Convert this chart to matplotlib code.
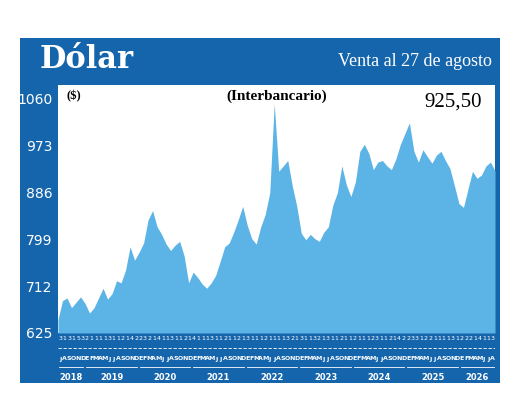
import numpy as np
import matplotlib.pyplot as plt

# Monthly values, Jul 2018 .. Aug 2026
values = [650, 685, 690, 672, 682, 692,
          680, 662, 672, 690, 708, 688, 698, 722, 718, 742, 785, 760,
          775, 792, 835, 852, 822, 808, 790, 778, 788, 795, 768, 718,
          738, 728, 716, 708, 718, 732, 758, 785, 792, 812, 835, 860,
          825, 800, 790, 822, 845, 885, 1050, 925, 935, 945, 898, 860,
          810, 798, 808, 800, 795, 812, 822, 862, 885, 935, 900, 878,
          905, 962, 975, 958, 928, 942, 945, 935, 928, 948, 975, 995,
          1015, 962, 942, 965, 952, 940, 955, 962, 945, 930, 898, 865,
          858, 892, 925, 912, 918, 935, 942, 925.5]
years = ['2018', '2019', '2020', '2021', '2022', '2023', '2024', '2025', '2026']
month_letters = list('JASOND') + list('EFMAMJJASOND') * 7 + list('EFMAMJJA')
day_digits = list('3131532111131121422321411311214111311211213111211113213113213112112111231121422331221111312221411')
yticks = [625, 712, 799, 886, 973, 1060]

blue = '#1565ac'
light = '#5bb4e5'
W, H = 520, 416
fig = plt.figure(figsize=(5.2, 4.16), dpi=100)

def fx(px): return px / W
def fy(py): return 1 - py / H

# blue frame (background axes)
bg = fig.add_axes([fx(20), fy(383), fx(480), (383 - 38) / H], zorder=-1)
bg.set_facecolor(blue)
bg.set_xticks([])
bg.set_yticks([])
for s in bg.spines.values():
    s.set_visible(False)

fig.text(fx(40), fy(60), 'Dólar', color='white', fontsize=22, fontweight='bold', family='DejaVu Serif', va='center')
fig.text(fx(492), fy(62), 'Venta al 27 de agosto', color='white', fontsize=13, family='Liberation Serif', va='center', ha='right')

ax = fig.add_axes([fx(58), fy(333), fx(495 - 58), (333 - 85) / H])
x = np.arange(len(values))
ax.fill_between(x, 625, values, color=light, lw=0)
ax.set_xlim(0, len(values) - 1)
ax.set_ylim(625, 1085)
ax.set_facecolor('white')
for s in ax.spines.values():
    s.set_visible(False)
ax.set_xticks([])
ax.set_yticks(yticks)
ax.set_yticklabels([str(v) for v in yticks], color='white', fontsize=10, family='Liberation Sans Narrow')
ax.tick_params(axis='y', length=0, pad=4)
ax.text(0.02, 0.98, '($)', transform=ax.transAxes, fontsize=9, fontweight='bold', family='Liberation Serif', va='top')
ax.text(0.5, 0.98, '(Interbancario)', transform=ax.transAxes, fontsize=11, fontweight='bold', family='Liberation Serif', va='top', ha='center')
ax.text(0.97, 0.97, '925,50', transform=ax.transAxes, fontsize=15, family='Liberation Serif', va='top', ha='right')

# bottom strip
bx = fig.add_axes([fx(58), fy(383), fx(495 - 58), (383 - 333) / H])
bx.set_xlim(-0.5, len(values) - 0.5)
bx.set_ylim(0, 50)
bx.axis('off')
for i in range(len(values)):
    bx.text(i, 44, day_digits[i % len(day_digits)], color='white', fontsize=4.5, ha='center', va='center', family='Liberation Sans Narrow')
    bx.text(i, 24, month_letters[i], color='white', fontsize=4.5, ha='center', va='center', family='Liberation Sans Narrow', fontweight='bold')
bx.plot([-0.5, len(values) - 0.5], [35, 35], color='white', lw=0.6, ls=(0, (4, 2)))
starts = [0] + [6 + 12 * k for k in range(8)]
ends = starts[1:] + [len(values)]
for yr, a, b in zip(years, starts, ends):
    bx.plot([a - 0.2, b - 0.8], [16, 16], color='white', lw=0.6)
    bx.text((a + b - 1) / 2, 6, yr, color='white', fontsize=6, fontweight='bold', ha='center', va='center', family='Liberation Sans Narrow')

fig.savefig('out.png', dpi=100)
